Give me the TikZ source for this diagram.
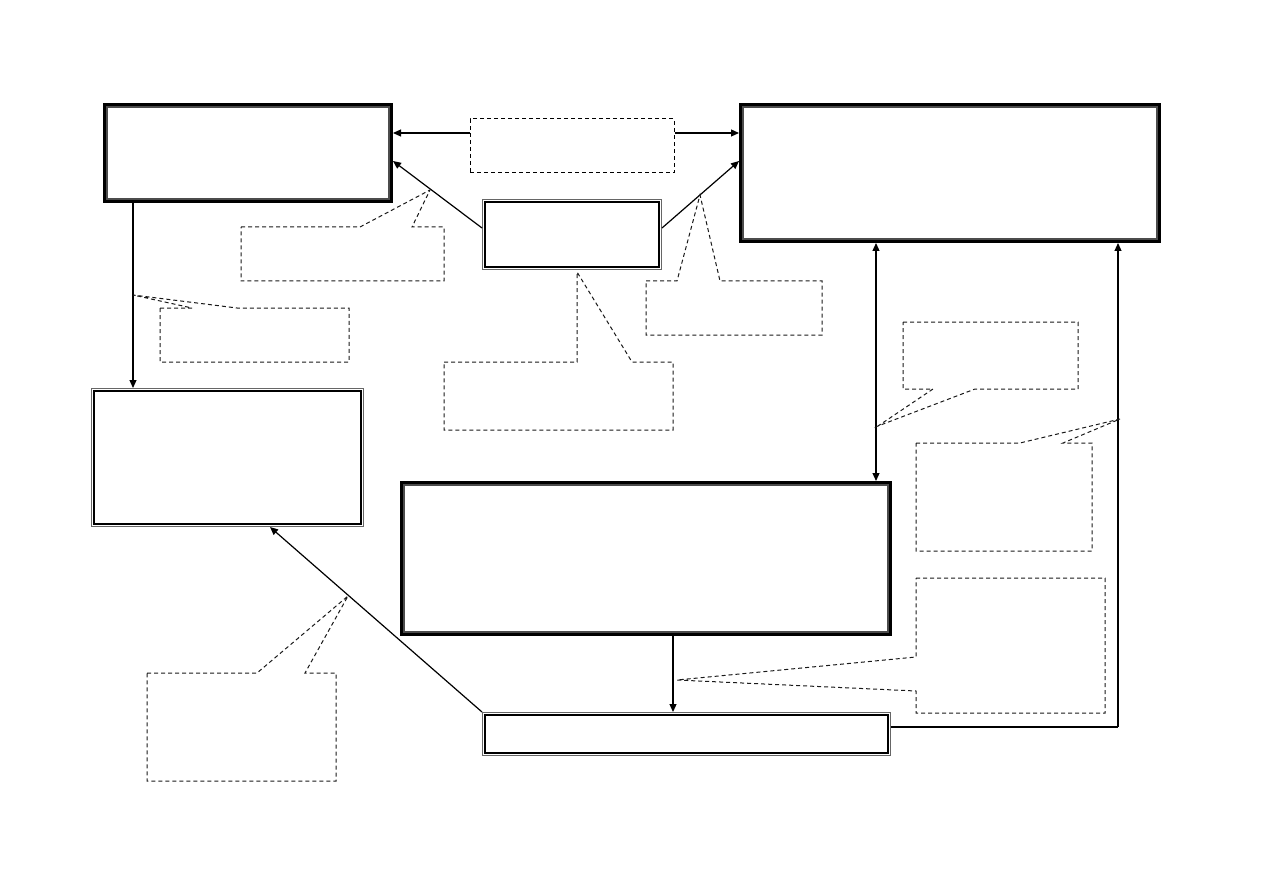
\documentclass[tikz,border=0pt]{standalone}
\usetikzlibrary{arrows.meta,fit}
\begin{document}
\begin{tikzpicture}[x=1pt,y=-1pt,
  thickbox/.style={draw=black,line width=4.8pt,inner sep=0pt,rectangle},
  thinbox/.style={draw=black!60,line width=1pt,inner sep=0pt,rectangle},
  innerthick/.style={draw=black!70,line width=1.4pt},
  innerthin/.style={draw=black,line width=1.2pt},
  labelbox/.style={draw=black,dash pattern=on 4pt off 3pt,line width=1pt,inner sep=0pt,rectangle},
  callout/.style={draw=black!90,dash pattern=on 4pt off 3pt,line width=1pt},
  conn/.style={draw=black,line width=1.2pt},
  arr/.style={conn,-{Triangle[length=8pt,width=7pt]}},
  darr/.style={conn,{Triangle[length=8pt,width=7pt]}-{Triangle[length=8pt,width=7pt]}}
]
\useasboundingbox (0,0) rectangle (1263,893);

% main boxes
\node[thickbox,fit={(105.4,105.4) (390.6,200.6)}] (A) {};
\node[thickbox,fit={(741.4,105.4) (1158.6,240.6)}] (B) {};
\node[thickbox,fit={(402.4,483.4) (889.6,633.6)}] (E) {};
\node[thinbox,fit={(482.5,199.5) (661.5,269.5)}] (C) {};
\node[thinbox,fit={(91.5,388.5) (363.5,526.5)}] (D) {};
\node[thinbox,fit={(482.5,712.5) (890.5,755.5)}] (F) {};
\node[labelbox,fit={(470,119) (674,173)}] (G) {};

% inner lines
\foreach \n in {A,B,E}{
  \draw[innerthick] ([xshift=4pt,yshift=-4pt]\n.north west) rectangle ([xshift=-4pt,yshift=4pt]\n.south east);
}
\foreach \n in {C,D,F}{
  \draw[innerthin] ([xshift=3pt,yshift=-3pt]\n.north west) rectangle ([xshift=-3pt,yshift=3pt]\n.south east);
}

% helper coordinates
\coordinate (y133) at (0,133);
\coordinate (y161) at (0,161);
\coordinate (y228) at (0,228);
\coordinate (y727) at (0,727);
\coordinate (x133) at (133,0);
\coordinate (x876) at (876,0);
\coordinate (x673) at (673,0);
\coordinate (x1118) at (1118,0);
\coordinate (x270) at (270,0);
\coordinate (turn) at (1118,727);

% connectors
\draw[arr] (G.west |- y133) -- (A.east |- y133);
\draw[arr] (G.east |- y133) -- (B.west |- y133);
\draw[arr] (C.west |- y228) -- (A.east |- y161);
\draw[arr] (C.east |- y228) -- (B.west |- y161);
\draw[arr] (A.south -| x133) -- (D.north -| x133);
\draw[darr] (B.south -| x876) -- (E.north -| x876);
\draw[arr] (E.south -| x673) -- (F.north -| x673);
\draw[conn] (F.east |- y727) -- (turn);
\draw[arr] (turn) -- (B.south -| x1118);
\draw[arr] (F.north west) -- (D.south -| x270);

% callouts
\draw[callout] (241,227) -- (360,227) -- (430,190) -- (412,227) -- (444,227) -- (444,281) -- (241,281) -- cycle;
\draw[callout] (160,308) -- (192,308) -- (133,295) -- (237,308) -- (349,308) -- (349,362) -- (160,362) -- cycle;
\draw[callout] (444,362) -- (577,362) -- (577,272) -- (632,362) -- (673,362) -- (673,430) -- (444,430) -- cycle;
\draw[callout] (646,281) -- (677,281) -- (700,195) -- (720,281) -- (822,281) -- (822,335) -- (646,335) -- cycle;
\draw[callout] (903,322) -- (1078,322) -- (1078,389) -- (975,389) -- (878,426) -- (933,389) -- (903,389) -- cycle;
\draw[callout] (916,443) -- (1020,443) -- (1120,419) -- (1063,443) -- (1092,443) -- (1092,551) -- (916,551) -- cycle;
\draw[callout] (916,578) -- (1105,578) -- (1105,713) -- (916,713) -- (916,691) -- (677,680) -- (916,657) -- cycle;
\draw[callout] (147,673) -- (257,673) -- (348,596) -- (305,673) -- (336,673) -- (336,781) -- (147,781) -- cycle;
\end{tikzpicture}
\end{document}
